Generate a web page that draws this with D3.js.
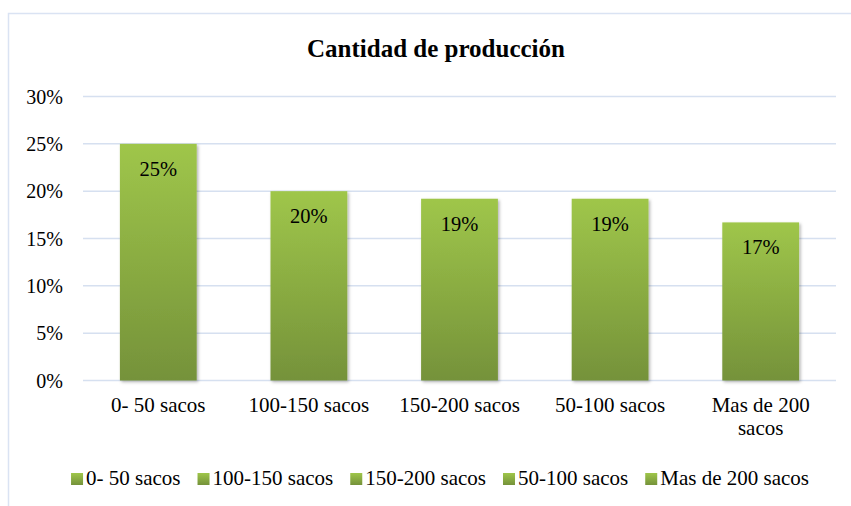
<!DOCTYPE html>
<html>
<head>
<meta charset="utf-8">
<script src="https://cdn.jsdelivr.net/npm/d3@7"></script>
<style>
  html, body { margin: 0; padding: 0; background: #fff; }
  svg { display: block; }
  svg text { font-family: 'Liberation Serif', 'DejaVu Serif', serif; }
</style>
</head>
<body>
<div id="chart"></div>
<script>
// data
var categories = ['0- 50 sacos', '100-150 sacos', '150-200 sacos', '50-100 sacos', 'Mas de 200 sacos'];
var values = [25, 20, 19.2, 19.2, 16.7];
var yTicks = [0, 5, 10, 15, 20, 25, 30];
var title = 'Cantidad de producción';

var width = 851, height = 506;
var margin = { left: 83, right: 16, top: 96, bottom: 126 };
var fontFam = "'Liberation Serif', 'DejaVu Serif', serif";

var svg = d3.select('#chart').append('svg')
  .attr('width', width)
  .attr('height', height)
  .attr('font-family', fontFam);

var defs = svg.append('defs');
var grad = defs.append('linearGradient')
  .attr('id', 'barGrad')
  .attr('x1', 0).attr('y1', 0).attr('x2', 0).attr('y2', 1);
grad.append('stop').attr('offset', '0%').attr('stop-color', '#9fc64a');
grad.append('stop').attr('offset', '100%').attr('stop-color', '#75923a');

var shadow = defs.append('filter')
  .attr('id', 'shadow')
  .attr('x', '-10%').attr('y', '-10%').attr('width', '130%').attr('height', '130%');
shadow.append('feDropShadow')
  .attr('dx', 1.5).attr('dy', 1.5).attr('stdDeviation', 1.5)
  .attr('flood-color', '#000').attr('flood-opacity', 0.3);

// chart border (runs off the right and bottom of the picture)
svg.append('rect')
  .attr('x', 8.5).attr('y', 13.5)
  .attr('width', 900).attr('height', 600)
  .attr('fill', 'none')
  .attr('stroke', '#dae3f3')
  .attr('stroke-width', 1.5);

var x = d3.scaleBand()
  .domain(categories)
  .range([margin.left, width - margin.right + 1])
  .paddingInner(0.49)
  .paddingOuter(0.245);

var y = d3.scaleLinear()
  .domain([0, 30])
  .range([380.5, 96.5]);

// gridlines
svg.append('g')
  .selectAll('line')
  .data(yTicks)
  .enter()
  .append('line')
  .attr('x1', margin.left)
  .attr('x2', 836)
  .attr('y1', function(d){ return y(d); })
  .attr('y2', function(d){ return y(d); })
  .attr('stroke', '#d6e0f0')
  .attr('stroke-width', 1.5);

// y tick labels
svg.append('g')
  .selectAll('text')
  .data(yTicks)
  .enter()
  .append('text')
  .attr('x', 63)
  .attr('y', function(d){ return y(d); })
  .attr('dy', '0.35em')
  .attr('text-anchor', 'end')
  .attr('font-size', 20)
  .attr('fill', '#000')
  .text(function(d){ return d + '%'; });

// bars
svg.append('g')
  .selectAll('rect')
  .data(values)
  .enter()
  .append('rect')
  .attr('x', function(d, i){ return x(categories[i]); })
  .attr('y', function(d){ return y(d); })
  .attr('width', x.bandwidth())
  .attr('height', function(d){ return y(0) - y(d); })
  .attr('fill', 'url(#barGrad)')
  .attr('filter', 'url(#shadow)');

// value labels
svg.append('g')
  .selectAll('text')
  .data(values)
  .enter()
  .append('text')
  .attr('x', function(d, i){ return x(categories[i]) + x.bandwidth() / 2; })
  .attr('y', function(d){ return y(d) + 32; })
  .attr('text-anchor', 'middle')
  .attr('font-size', 20.5)
  .attr('fill', '#000')
  .text(function(d){ return Math.round(d) + '%'; });

// category labels, wrapped like the original
var catLines = categories.map(function(c){
  return c === 'Mas de 200 sacos' ? ['Mas de 200', 'sacos'] : [c];
});
var catText = svg.append('g')
  .selectAll('text')
  .data(catLines)
  .enter()
  .append('text')
  .attr('text-anchor', 'middle')
  .attr('font-size', 21)
  .attr('fill', '#000');
catText.each(function(lines, i){
  var t = d3.select(this);
  lines.forEach(function(l, j){
    t.append('tspan')
      .attr('x', x(categories[i]) + x.bandwidth() / 2)
      .attr('y', 412 + j * 23)
      .text(l);
  });
});

// title
svg.append('text')
  .attr('x', 436)
  .attr('y', 57)
  .attr('text-anchor', 'middle')
  .attr('font-size', 25)
  .attr('font-weight', 'bold')
  .attr('fill', '#000')
  .text(title);

// legend
var legend = svg.append('g');
var lx = 0;
categories.forEach(function(c){
  var item = legend.append('g').attr('transform', 'translate(' + lx + ',0)');
  item.append('rect')
    .attr('x', 0).attr('y', -12)
    .attr('width', 12).attr('height', 12)
    .attr('fill', 'url(#barGrad)');
  var t = item.append('text')
    .attr('x', 15)
    .attr('y', 0)
    .attr('font-size', 21)
    .attr('fill', '#000')
    .text(c);
  lx += 15 + t.node().getComputedTextLength() + 17;
});
var legendWidth = lx - 17;
legend.attr('transform', 'translate(' + (440 - legendWidth / 2) + ',485)');
</script>
</body>
</html>
